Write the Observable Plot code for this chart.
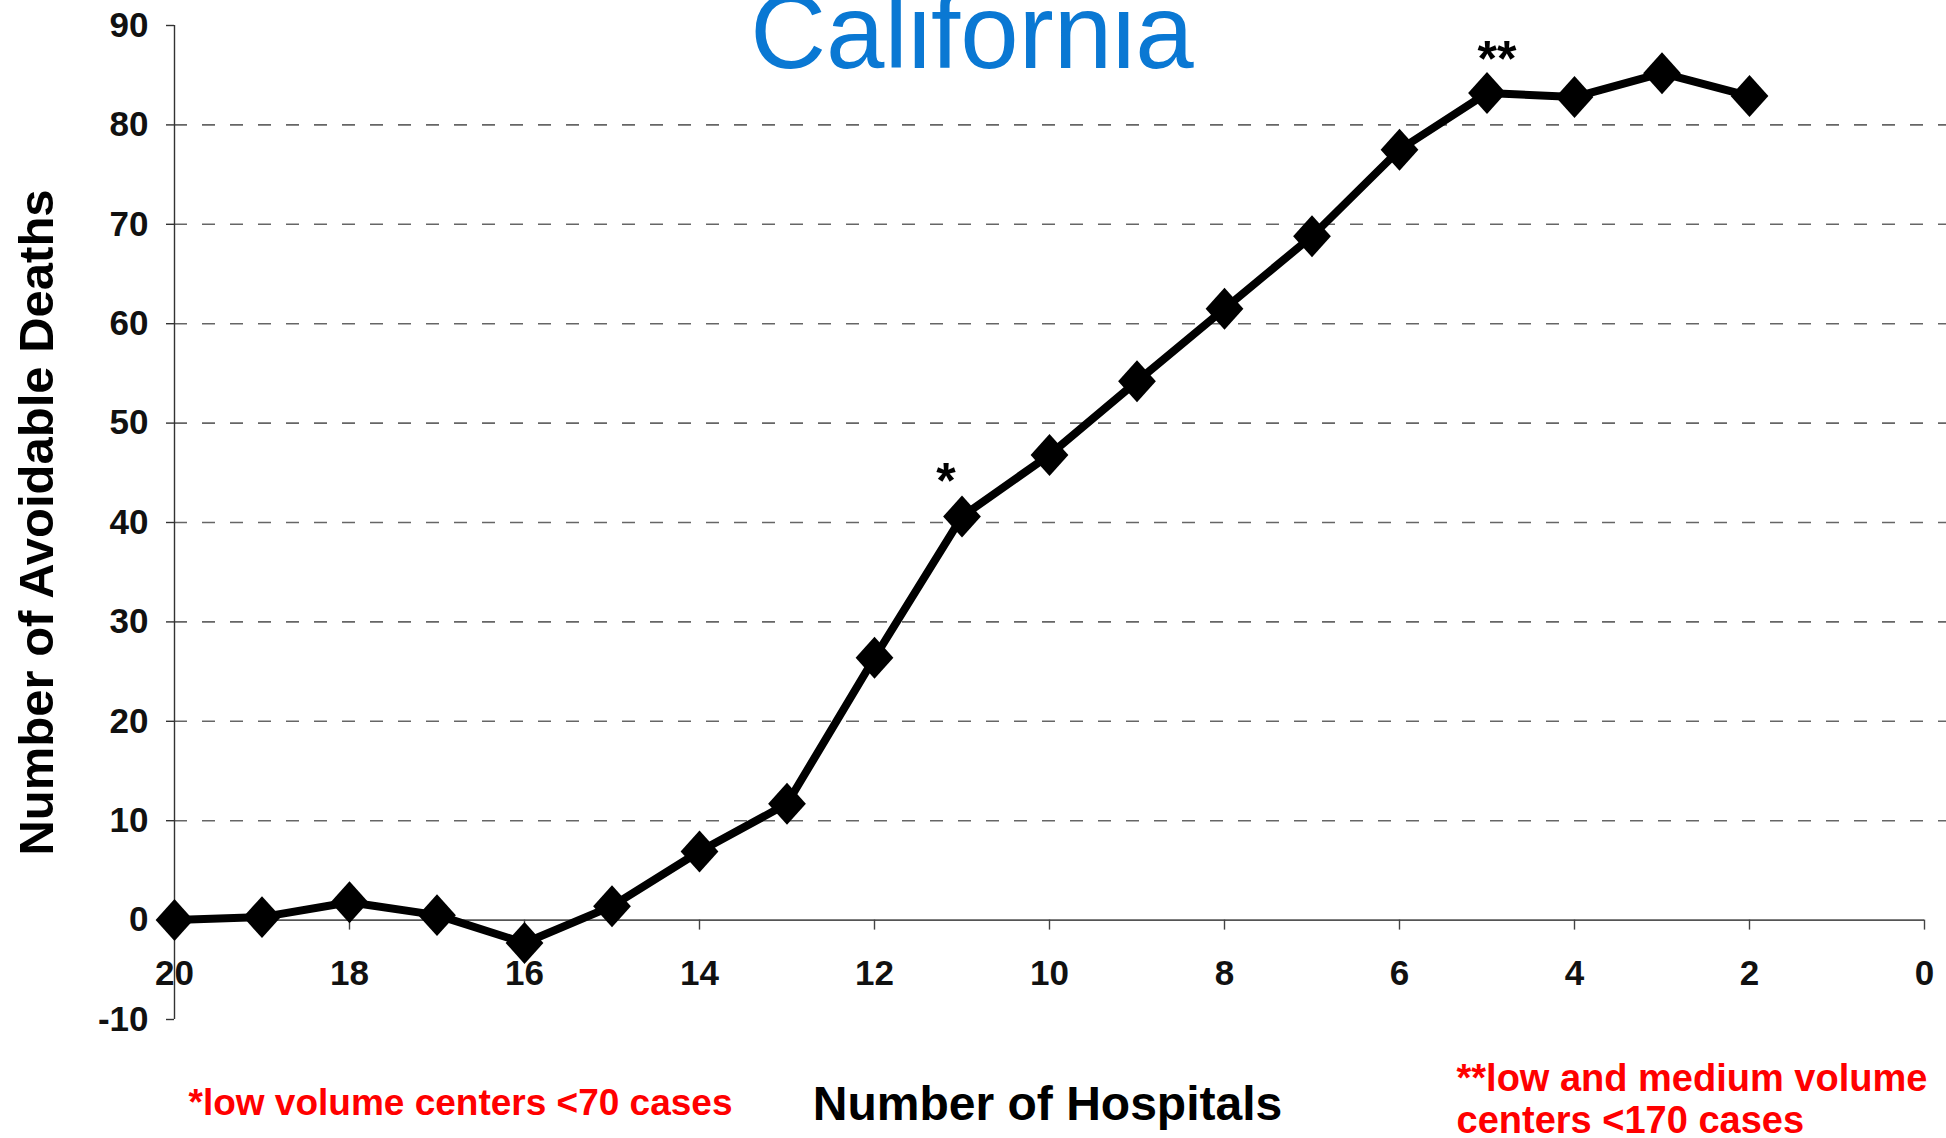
<!DOCTYPE html>
<html>
<head>
<meta charset="utf-8">
<script src="https://cdn.jsdelivr.net/npm/d3@7"></script>
<script src="https://cdn.jsdelivr.net/npm/@observablehq/plot@0.6"></script>
<style>
  body { margin: 0; background: #fff; }
  #wrap { position: relative; width: 1946px; height: 1138px; overflow: hidden; background: #fff; }
  #title {
    position: absolute; left: 972px; top: -21px; transform: translateX(-50%);
    font-family: "Liberation Sans", Arial, sans-serif; font-size: 105px; line-height: 1;
    color: #0a78d3; white-space: nowrap;
  }
  #wrap svg { position: absolute; left: 0; top: 0; }
</style>
</head>
<body>
<div id="wrap"><div id="title">California</div></div>
<script>
// Number of hospitals performing the procedure (x) and avoidable deaths (y)
const hospitals = [20, 19, 18, 17, 16, 15, 14, 13, 12, 11, 10, 9, 8, 7, 6, 5, 4, 3, 2];
const deaths    = [0, 0.3, 1.8, 0.5, -2.3, 1.4, 6.9, 11.7, 26.4, 40.6, 46.8, 54.2, 61.5, 68.8, 77.5, 83.2, 82.8, 85.2, 82.9];

const xTicks = [20, 18, 16, 14, 12, 10, 8, 6, 4, 2, 0];
const yTicks = [-10, 0, 10, 20, 30, 40, 50, 60, 70, 80, 90];
const gridLines = [10, 20, 30, 40, 50, 60, 70, 80];

// footnote markers: hospital count they sit on
const lowVolumeAt = 11;
const lowMediumVolumeAt = 5;

const yLabel = "Number of Avoidable Deaths";
const xLabel = "Number of Hospitals";
const note1 = "*low volume centers <70 cases";
const note2 = "**low and medium volume\ncenters <170 cases";

const data = hospitals.map((h, i) => ({h, d: deaths[i]}));
const star1 = data.filter(p => p.h === lowVolumeAt);
const star2 = data.filter(p => p.h === lowMediumVolumeAt);

const font = "'Liberation Sans', Arial, Helvetica, sans-serif";

// diamond marker, a little taller than wide
const diamond = {
  draw(context, size) {
    const h = Math.sqrt(size) * 0.64, w = h * 0.9;
    context.moveTo(0, -h);
    context.lineTo(w, 0);
    context.lineTo(0, h);
    context.lineTo(-w, 0);
    context.closePath();
  }
};

const chart = Plot.plot({
  width: 1946,
  height: 1138,
  marginLeft: 174,
  marginRight: 22,
  marginTop: 25,
  marginBottom: 119,
  x: {domain: [20, 0], axis: null},
  y: {domain: [-10, 90]},
  style: {fontFamily: font, background: "transparent", overflow: "visible"},
  marks: [
    // dashed horizontal gridlines
    Plot.ruleY(gridLines, {stroke: "#666", strokeWidth: 1.6, strokeDasharray: "13,15", insetRight: -22}),
    // y axis line and ticks
    Plot.ruleX([20], {y1: -10, y2: 90, stroke: "#333", strokeWidth: 1.4}),
    Plot.axisY(yTicks, {
      tickSize: 8, tickPadding: 18, fontSize: 35, fontWeight: "bold",
      tickFormat: d => String(d),
      stroke: "#333", strokeWidth: 1.4, fill: "#111", label: null
    }),
    // x axis drawn through zero
    Plot.ruleY([0], {stroke: "#555", strokeWidth: 1.6}),
    Plot.ruleX(xTicks, {x: d => d, y1: () => 0, y2: () => 0, insetBottom: -10, stroke: "#444", strokeWidth: 1.4}),
    Plot.text(xTicks, {x: d => d, y: () => 0, text: d => String(d), dy: 65, lineAnchor: "bottom",
      fontSize: 35, fontWeight: "bold", fill: "#111"}),
    // series
    Plot.line(data, {x: "h", y: "d", stroke: "#000", strokeWidth: 8, strokeLinejoin: "round"}),
    Plot.dot(data, {x: "h", y: "d", symbol: diamond, r: 18.5, fill: "#000", stroke: "none"}),
    // footnote markers
    Plot.text(star1, {x: "h", y: "d", text: () => "*", dx: -16, dy: -35,
      fontSize: 50, fontWeight: "bold", fill: "#000"}),
    Plot.text(star2, {x: "h", y: "d", text: () => "**", dx: 10, dy: -33,
      fontSize: 50, fontWeight: "bold", fill: "#000"}),
    // axis titles
    Plot.text([yLabel], {frameAnchor: "left", rotate: -90, dx: -137, textAnchor: "middle",
      fontSize: 49, fontWeight: "bold", fill: "#000"}),
    Plot.text([xLabel], {frameAnchor: "bottom", dy: 100, dx: -2, lineAnchor: "bottom",
      fontSize: 48, fontWeight: "bold", fill: "#000"}),
    // footnotes
    Plot.text([note1], {frameAnchor: "bottom-left", textAnchor: "start", lineAnchor: "bottom",
      dx: 14, dy: 95, fontSize: 37, fontWeight: "bold", fill: "#ff0000"}),
    Plot.text([note2], {frameAnchor: "bottom-left", textAnchor: "start", lineAnchor: "bottom",
      dx: 1282, dy: 113, lineHeight: 1.1, fontSize: 38, fontWeight: "bold", fill: "#ff0000"})
  ]
});

document.getElementById("wrap").prepend(chart);
</script>
</body>
</html>
